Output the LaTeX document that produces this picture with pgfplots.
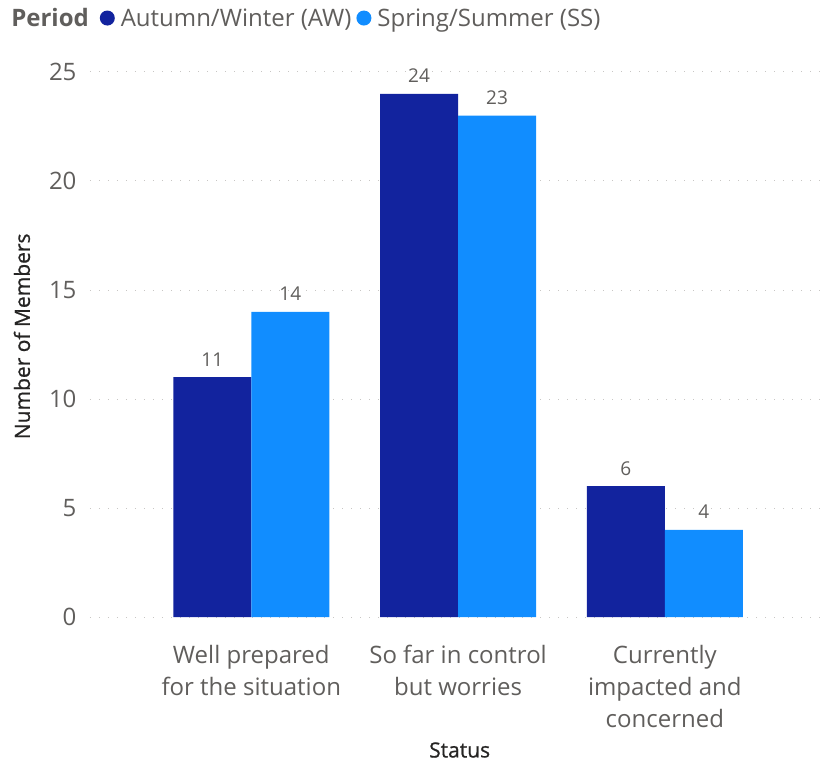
\documentclass[border=0pt]{standalone}
\usepackage{fontspec}
\setmainfont{Open Sans}
\usepackage{pgfplots}
\pgfplotsset{compat=1.18}
\definecolor{aw}{HTML}{12239E}
\definecolor{ss}{HTML}{118DFF}
\definecolor{lab}{HTML}{605E5C}
\definecolor{ttl}{HTML}{252423}
\definecolor{grd}{HTML}{C8C6C4}
\newcommand{\semib}{\addfontfeatures{FakeBold=0.8}}
\begin{document}
\begin{tikzpicture}[x=1pt,y=1pt]
\path[use as bounding box] (0,0) rectangle (822,764);
\begin{axis}[
  at={(90pt,147pt)}, anchor=south west,
  scale only axis, width=732pt, height=545pt,
  ybar=0pt, bar width=78pt,
  xmin=-0.78, xmax=2.76, ymin=0, ymax=25,
  xtick=data,
  xticklabels={{Well prepared\\for the situation},{So far in control\\but worries},{Currently\\impacted and\\concerned}},
  ytick={0,5,10,15,20,25},
  axis line style={draw=none},
  major tick length=0pt,
  ymajorgrids,
  grid style={grd, line width=1pt, dash pattern=on 1pt off 8pt},
  x tick label style={align=center, font=\fontsize{24}{32}\selectfont, text=lab, yshift=-25pt},
  yticklabel style={font=\fontsize{24}{28}\selectfont, text=lab, anchor=east, xshift=-10pt},
  /pgf/number format/assume math mode=true,
  xlabel={Status},
  xlabel style={font=\fontsize{21}{24}\selectfont\semib, text=ttl, at={(axis description cs:0.505,-0.244)}, anchor=center},
  ylabel={Number of Members},
  ylabel style={font=\fontsize{21}{24}\selectfont\semib, text=ttl, at={(axis description cs:-0.093,0.515)}, anchor=center, rotate=0},
  nodes near coords,
  every node near coord/.append style={font=\fontsize{19}{22}\selectfont, text=lab, anchor=base, yshift=11pt},
  legend style={at={(axis description cs:-0.116,1.099)}, anchor=west, draw=none, fill=none,
    inner sep=0pt, legend columns=-1, font=\fontsize{24}{28}\selectfont, text=lab,
    nodes={inner xsep=0pt},
    /tikz/every even column/.append style={column sep=5pt},
    /tikz/every odd column/.append style={column sep=6pt}},
  legend cell align=left,
]
\addlegendimage{empty legend}
\addlegendentry{\textbf{Period}\rule{6pt}{0pt}}
\addplot[fill=aw, draw=none, legend image code/.code={\fill[aw] (7.5pt,0pt) circle (7.5pt);}]
  coordinates {(0,11) (1,24) (2,6)};
\addlegendentry{Autumn/Winter (AW)}
\addplot[fill=ss, draw=none, legend image code/.code={\fill[ss] (7.5pt,0pt) circle (7.5pt);}]
  coordinates {(0,14) (1,23) (2,4)};
\addlegendentry{Spring/Summer (SS)}
\end{axis}
\end{tikzpicture}
\end{document}
